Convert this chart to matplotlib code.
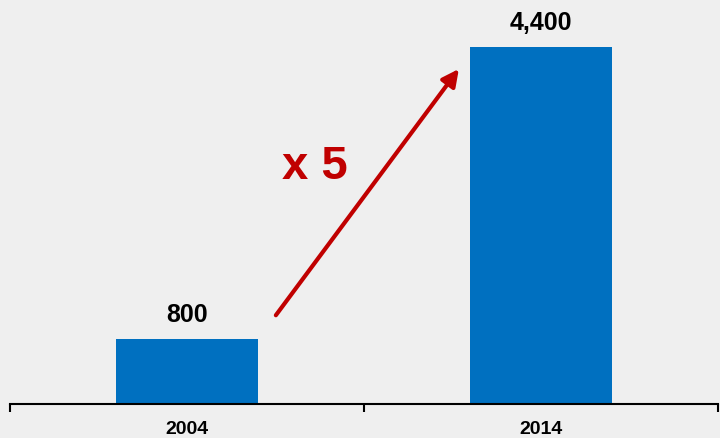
import matplotlib.pyplot as plt

years = ['2004', '2014']
values = [800, 4400]
value_labels = ['800', '4,400']
growth_label = 'x 5'

bg = '#efefef'
bar_color = '#0070c0'
arrow_color = '#c00000'

fig = plt.figure(figsize=(7.2, 4.38), dpi=100, facecolor=bg)
ax = fig.add_axes([10 / 720, 34 / 438, 708 / 720, 404 / 438], facecolor=bg)

x = range(len(years))
bars = ax.bar(x, values, width=0.4, color=bar_color)

ax.set_xlim(-0.5, 1.5)
ax.set_ylim(0, 4980)

for rect, lab in zip(bars, value_labels):
    ax.annotate(lab, (rect.get_x() + rect.get_width() / 2, rect.get_height()),
                xytext=(0, 9), textcoords='offset points', ha='center', va='bottom',
                fontsize=18, fontweight='bold', family='Liberation Sans')

# growth arrow from the small bar towards the big one
ax.annotate('', xy=(0.768, 4130), xytext=(0.251, 1094),
            arrowprops=dict(arrowstyle='-|>', color=arrow_color, lw=3,
                            mutation_scale=25, shrinkA=0, shrinkB=0))
ax.text(0.36, 2925, growth_label, color=arrow_color, fontsize=34, fontweight='bold',
        family='Liberation Sans', ha='center', va='center')

for side in ['left', 'right', 'top']:
    ax.spines[side].set_visible(False)
ax.spines['bottom'].set_linewidth(1.5)
ax.set_yticks([])
ax.set_xticks(list(x))
ax.set_xticklabels(years, fontsize=14, fontweight='bold', family='Liberation Sans')
ax.tick_params(axis='x', which='major', length=0, pad=12)
ax.set_xticks([-0.5, 0.5, 1.5], minor=True)
ax.tick_params(axis='x', which='minor', length=6, width=1.5, direction='out')

fig.savefig('out.png', dpi=100, facecolor=bg)
